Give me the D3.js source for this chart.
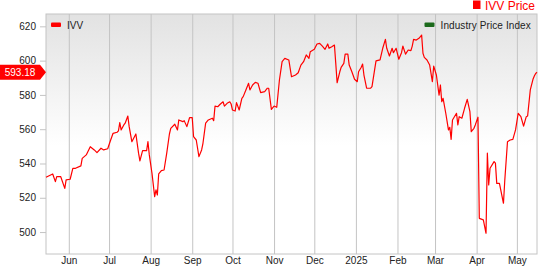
<!DOCTYPE html>
<html>
<head>
<meta charset="utf-8">
<script src="https://cdn.jsdelivr.net/npm/d3@7"></script>
<style>
  body { margin: 0; background: #fff; }
  svg { display: block; font-family: "Liberation Sans", Arial, sans-serif; }
  .axis path, .axis line { stroke: #c4c4c4; }
  .axis text { fill: #222; font-size: 10px; }
</style>
</head>
<body>
<div id="root"></div>
<script>
// IVV daily closes
const dates = [
  "2024-05-15","2024-05-20","2024-05-22","2024-05-23","2024-05-26","2024-05-29","2024-05-30",
  "2024-06-02","2024-06-04","2024-06-06","2024-06-10","2024-06-11","2024-06-14","2024-06-17","2024-06-20","2024-06-22","2024-06-25","2024-06-27","2024-06-30",
  "2024-07-02","2024-07-04","2024-07-07","2024-07-08","2024-07-09","2024-07-10","2024-07-12","2024-07-13","2024-07-15","2024-07-16","2024-07-18","2024-07-21","2024-07-23","2024-07-24","2024-07-26","2024-07-29","2024-07-30","2024-07-31",
  "2024-08-02","2024-08-04","2024-08-05","2024-08-06","2024-08-07","2024-08-09","2024-08-11","2024-08-13","2024-08-15","2024-08-16","2024-08-19","2024-08-21","2024-08-22","2024-08-25","2024-08-26","2024-08-28","2024-08-30",
  "2024-09-01","2024-09-02","2024-09-04","2024-09-06","2024-09-08","2024-09-09","2024-09-11","2024-09-13","2024-09-16","2024-09-17","2024-09-18","2024-09-20","2024-09-22","2024-09-24","2024-09-25","2024-09-27","2024-09-29","2024-09-30",
  "2024-10-01","2024-10-03","2024-10-04","2024-10-06","2024-10-08","2024-10-09","2024-10-11","2024-10-13","2024-10-14","2024-10-16","2024-10-18","2024-10-20","2024-10-22","2024-10-25","2024-10-27","2024-10-28","2024-10-30",
  "2024-11-01","2024-11-03","2024-11-05","2024-11-07","2024-11-09","2024-11-12","2024-11-14","2024-11-17","2024-11-19","2024-11-21","2024-11-23","2024-11-25","2024-11-27","2024-11-28",
  "2024-12-01","2024-12-03","2024-12-05","2024-12-07","2024-12-09","2024-12-11","2024-12-12","2024-12-14","2024-12-16","2024-12-17","2024-12-18","2024-12-20","2024-12-21","2024-12-23","2024-12-24","2024-12-26","2024-12-27","2024-12-29","2024-12-31",
  "2025-01-02","2025-01-03","2025-01-05","2025-01-06","2025-01-07","2025-01-09","2025-01-12","2025-01-13","2025-01-15","2025-01-16","2025-01-19","2025-01-21","2025-01-23","2025-01-24","2025-01-26","2025-01-28","2025-01-29","2025-01-31",
  "2025-02-02","2025-02-04","2025-02-05","2025-02-07","2025-02-09","2025-02-11","2025-02-12","2025-02-13","2025-02-15","2025-02-17","2025-02-19","2025-02-20","2025-02-21","2025-02-23","2025-02-25","2025-02-27","2025-02-28",
  "2025-03-02","2025-03-04","2025-03-05","2025-03-06","2025-03-07","2025-03-09","2025-03-11","2025-03-12","2025-03-13","2025-03-14","2025-03-17","2025-03-18","2025-03-19","2025-03-21","2025-03-23","2025-03-25","2025-03-27","2025-03-28","2025-03-30","2025-03-31",
  "2025-04-02","2025-04-03","2025-04-06","2025-04-08","2025-04-09","2025-04-10","2025-04-11","2025-04-14","2025-04-15","2025-04-16","2025-04-18","2025-04-21","2025-04-22","2025-04-24","2025-04-26","2025-04-28","2025-04-30",
  "2025-05-02","2025-05-04","2025-05-06","2025-05-08","2025-05-09","2025-05-11","2025-05-13","2025-05-14","2025-05-15","2025-05-16"
];
const prices = [
  532.0,533.9,529.4,532.3,532.3,525.5,530.4,
  530.8,537.2,537.2,538.6,543.0,545.0,549.8,547.9,546.3,548.9,547.9,548.6,
  553.3,557.6,558.2,559.0,563.8,559.6,562.5,563.5,567.7,561.5,552.7,557.2,546.0,541.5,547.5,547.5,552.7,545.0,
  534.3,520.7,524.6,521.6,533.9,535.8,536.2,546.0,557.2,560.5,562.9,559.6,565.4,564.4,565.0,561.5,566.7,
  566.7,555.6,553.7,544.0,547.9,551.8,563.5,565.4,566.4,565.0,573.5,573.1,574.7,576.0,573.5,575.1,576.0,574.7,
  571.2,570.6,575.5,571.2,578.0,579.0,582.9,586.8,582.9,585.8,587.3,586.8,581.3,581.9,583.9,583.9,571.6,
  573.5,572.8,588.7,599.4,601.3,600.4,590.6,591.6,592.9,597.4,599.4,603.3,601.3,605.2,
  606.6,609.7,610.1,608.5,606.6,609.7,607.2,608.1,609.1,598.4,587.1,593.5,596.1,598.4,603.8,603.8,597.4,593.5,589.1,
  587.7,593.5,596.1,598.0,591.6,583.9,583.9,584.8,594.9,599.9,600.4,607.2,612.4,607.2,602.7,607.2,604.6,607.2,
  600.8,604.6,608.5,603.8,606.2,605.8,608.5,612.4,612.0,613.0,614.9,604.3,601.9,600.4,597.4,587.7,596.8,
  591.6,579.9,585.8,576.0,578.0,569.3,559.6,561.1,554.1,565.4,569.3,562.5,567.3,566.4,572.2,577.4,570.2,558.6,560.5,562.5,
  567.0,508.0,507.1,499.3,546.0,527.5,537.2,541.1,540.2,528.4,528.4,516.8,530.4,552.7,553.7,554.1,559.6,
  569.3,567.3,561.8,567.3,567.7,582.9,589.1,591.0,592.5,593.18
];
const yTicks = [500, 520, 540, 560, 580, 600, 620];
const legendLabels = ["IVV", "Industry Price Index"];
const titleText = "IVV Price";

const outerWidth = 539;
const outerHeight = 266;
const margin = { top: 14, right: 2, bottom: 12, left: 46 };
const width = outerWidth - margin.left - margin.right;
const height = outerHeight - margin.top - margin.bottom;

const parse = d3.timeParse("%Y-%m-%d");
const data = dates.map((d, i) => ({ date: parse(d), price: prices[i] }));

const scaleX = d3.scaleTime()
    .domain([parse("2024-05-15"), parse("2025-05-16")])
    .range([0, width]);
const scaleY = d3.scaleLinear().domain([487.2, 627.2]).range([height, 0]);

const svg = d3.select("#root").append("svg")
    .attr("width", outerWidth)
    .attr("height", outerHeight);

const grad = svg.append("defs").append("linearGradient")
    .attr("id", "bg").attr("x1", 0).attr("y1", 0).attr("x2", 0).attr("y2", 1);
grad.append("stop").attr("offset", "0%").attr("stop-color", "#e2e2e2");
grad.append("stop").attr("offset", "55%").attr("stop-color", "#ffffff");

const chart = svg.append("g")
    .attr("transform", `translate(${margin.left}, ${margin.top})`);

chart.append("rect")
    .attr("width", width).attr("height", height)
    .attr("fill", "url(#bg)")
    .attr("stroke", "#c4c4c4");

const fmtMonth = d3.timeFormat("%b");
const xAxis = d3.axisBottom(scaleX)
    .ticks(d3.timeMonth.every(1))
    .tickSize(-height)
    .tickPadding(3)
    .tickFormat(d => d.getMonth() === 0 ? d.getFullYear() : fmtMonth(d));

chart.append("g")
    .attr("class", "x axis")
    .attr("transform", `translate(0, ${height})`)
    .call(xAxis)
    .call(g => g.select(".domain").remove());

chart.append("g")
    .attr("class", "y axis")
    .call(d3.axisLeft(scaleY).tickValues(yTicks).tickSize(6).tickPadding(4).tickSizeOuter(0))
    .call(g => g.select(".domain").remove());

chart.append("path")
    .datum(data)
    .attr("fill", "none")
    .attr("stroke", "#ff0000")
    .attr("stroke-width", 1.2)
    .attr("stroke-linejoin", "round")
    .attr("d", d3.line().x(d => scaleX(d.date)).y(d => scaleY(d.price)));

// legend
chart.append("rect").attr("x", 5).attr("y", 8.5).attr("width", 10).attr("height", 4.5).attr("rx", 1).attr("fill", "#ff0000");
chart.append("text").attr("x", 21).attr("y", 15).attr("font-size", 10).attr("fill", "#222").text(legendLabels[0]);
chart.append("rect").attr("x", 378.5).attr("y", 8.5).attr("width", 10).attr("height", 4.5).attr("rx", 1).attr("fill", "#1c6a1c");
chart.append("text").attr("x", 394.5).attr("y", 15).attr("font-size", 10).attr("fill", "#222")
    .attr("letter-spacing", 0.1).text(legendLabels[1]);

// title
svg.append("rect").attr("x", 473).attr("y", 0.5).attr("width", 7.5).attr("height", 8.5).attr("fill", "#ff0000");
svg.append("text").attr("x", 485).attr("y", 9.6).attr("font-size", 12).attr("fill", "#ff0000").text(titleText);

// last price tag
const last = data[data.length - 1];
const ty = margin.top + scaleY(last.price);
svg.append("path")
    .attr("d", `M0,${ty - 7.5}H40L46,${ty}L40,${ty + 7.5}H0Z`)
    .attr("fill", "#ff0000");
svg.append("text")
    .attr("x", 20).attr("y", ty + 3.6)
    .attr("text-anchor", "middle")
    .attr("font-size", 10).attr("fill", "#fff")
    .text(last.price.toFixed(2));
</script>
</body>
</html>
